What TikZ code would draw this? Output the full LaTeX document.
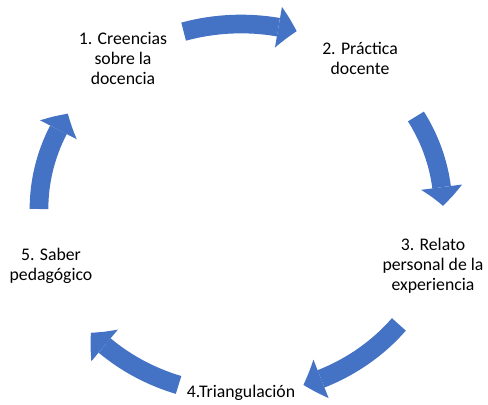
\documentclass[tikz,border=0pt]{standalone}
\usepackage{fontspec}
\setmainfont{Carlito}
\usetikzlibrary{arrows.meta, bending}
\definecolor{cycleblue}{RGB}{68,114,196}

\begin{document}
\begin{tikzpicture}[x=0.75pt, y=0.75pt,
    every node/.style={align=center, inner sep=0pt, font=\fontsize{13.3}{15}\selectfont},
    cyclearrow/.style={draw=cycleblue, line width=14pt,
      -{Triangle[width=31pt, length=14pt, line width=0pt, bend]}}]
  \useasboundingbox (-241,-195) rectangle (247,209);

  \node (cre) at (-118,151) {1. Creencias\\sobre la\\docencia};
  \node (pra) at (119,151) {2. Práctica\\docente};
  \node (rel) at (192,-57) {3. Relato\\personal de la\\experiencia};
  \node (tri) at (0,-184) {4.Triangulación};
  \node (sab) at (-190,-57) {5. Saber\\pedagógico};

  % arrows on the ring
  \coordinate (crepra) at (106.5:202 and 185);
  \coordinate (prarel) at (30:202 and 185);
  \coordinate (reltri) at (-38.6:202 and 185);
  \coordinate (trisab) at (-108:202 and 185);
  \coordinate (sabcre) at (180:202 and 185);

  \draw [cyclearrow] (crepra) arc[start angle=106.5, end angle=74, x radius=202, y radius=185];
  \draw [cyclearrow] (prarel) arc[start angle=30, end angle=1, x radius=202, y radius=185];
  \draw [cyclearrow] (reltri) arc[start angle=-38.6, end angle=-72, x radius=202, y radius=185];
  \draw [cyclearrow] (trisab) arc[start angle=-108, end angle=-138, x radius=202, y radius=185];
  \draw [cyclearrow] (sabcre) arc[start angle=180, end angle=149, x radius=202, y radius=185];
\end{tikzpicture}
\end{document}
